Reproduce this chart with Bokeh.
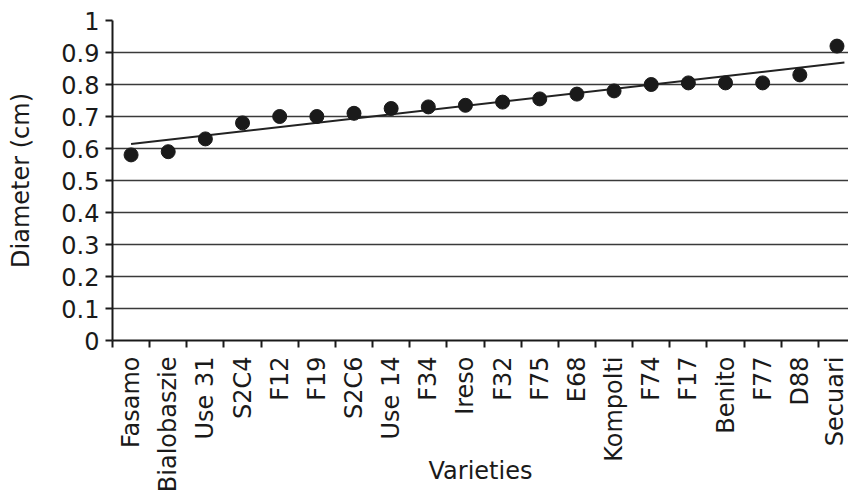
import numpy as np
from bokeh.plotting import figure
from bokeh.models import Range1d, FixedTicker
from bokeh.embed import file_html
from bokeh.resources import INLINE

# ---- data -------------------------------------------------------------
varieties = ["Fasamo", "Bialobaszie", "Use 31", "S2C4", "F12", "F19", "S2C6",
             "Use 14", "F34", "Ireso", "F32", "F75", "E68", "Kompolti", "F74",
             "F17", "Benito", "F77", "D88", "Secuari"]
diameter = [0.58, 0.59, 0.63, 0.68, 0.70, 0.70, 0.71,
            0.725, 0.73, 0.735, 0.745, 0.755, 0.77, 0.78, 0.80,
            0.805, 0.805, 0.805, 0.83, 0.92]
y_ticks = [0, 0.1, 0.2, 0.3, 0.4, 0.5, 0.6, 0.7, 0.8, 0.9, 1]
y_tick_labels = ["0", "0.1", "0.2", "0.3", "0.4", "0.5", "0.6", "0.7", "0.8", "0.9", "1"]
x_title = "Varieties"
y_title = "Diameter (cm)"

# ---- derived ------------------------------------------------------------
n = len(varieties)
x = np.arange(n) + 0.5
boundaries = list(range(n + 1))
slope, intercept = np.polyfit(x, diameter, 1)
trend_x = [x[0], x[-1] + 0.2]
trend_y = [slope * v + intercept for v in trend_x]

FONT = "DejaVu Sans"
INK = "#1a1a1a"

p = figure(frame_width=736, frame_height=320,
           x_range=Range1d(0, 19.81), y_range=Range1d(0, 1),
           output_backend="svg", toolbar_location=None,
           min_border_left=112, min_border_right=0, min_border_top=20,
           min_border_bottom=152)
p.outline_line_color = None
p.background_fill_color = "white"
p.border_fill_color = "white"

# grid
p.xgrid.visible = False
p.ygrid.ticker = FixedTicker(ticks=y_ticks[1:-1])
p.ygrid.grid_line_color = "#3a3a3a"
p.ygrid.grid_line_width = 1.6

# y axis
ya = p.yaxis[0]
ya.ticker = FixedTicker(ticks=y_ticks)
ya.major_label_overrides = {t: s for t, s in zip(y_ticks, y_tick_labels)}
ya.minor_tick_line_color = None
ya.major_tick_in = 0
ya.major_tick_out = 7
ya.major_tick_line_width = 2
ya.major_tick_line_color = INK
ya.axis_line_width = 2
ya.axis_line_color = INK
ya.major_label_text_font = FONT
ya.major_label_text_font_size = "24px"
ya.major_label_text_color = INK
ya.major_label_standoff = 6
ya.axis_label = y_title
ya.axis_label_text_font = FONT
ya.axis_label_text_font_size = "24px"
ya.axis_label_text_font_style = "normal"
ya.axis_label_text_color = INK
ya.axis_label_standoff = 23

# x axis
xa = p.xaxis[0]
xa.ticker = FixedTicker(ticks=list(x), minor_ticks=boundaries)
xa.major_label_overrides = {float(v): s for v, s in zip(x, varieties)}
xa.major_label_orientation = np.pi / 2
xa.major_tick_in = 0
xa.major_tick_out = 0
xa.minor_tick_in = 0
xa.minor_tick_out = 7
xa.minor_tick_line_width = 2
xa.minor_tick_line_color = INK
xa.axis_line_width = 2
xa.axis_line_color = INK
xa.major_label_text_font = FONT
xa.major_label_text_font_size = "24px"
xa.major_label_text_color = INK
xa.major_label_standoff = 9
xa.axis_label = x_title
xa.axis_label_text_font = FONT
xa.axis_label_text_font_size = "24px"
xa.axis_label_text_font_style = "normal"
xa.axis_label_text_color = INK
xa.axis_label_standoff = -38

# marks
p.line(trend_x, trend_y, line_color="#222222", line_width=2)
p.scatter(x, diameter, size=14, marker="circle", fill_color=INK, line_color=INK)

open("out.html", "w").write(file_html(p, INLINE))
